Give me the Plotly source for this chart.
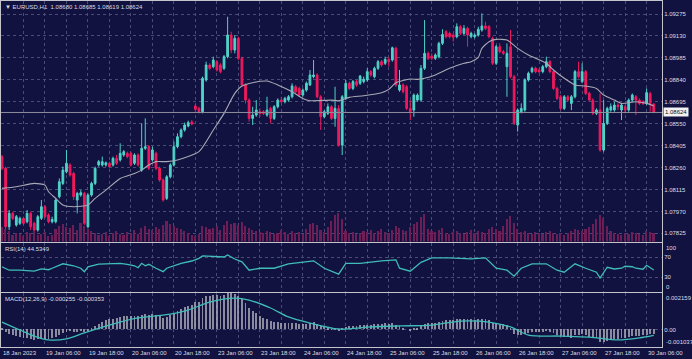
import plotly.graph_objects as go
from plotly.subplots import make_subplots

# ---------------- data ----------------
x_label_idx = [0, 12, 24, 36, 48, 60, 72, 84, 96, 108, 120, 132, 144, 156, 168, 180]
x_label_txt = ["18 Jan 2023", "19 Jan 06:00", "19 Jan 18:00", "20 Jan 06:00", "20 Jan 18:00",
               "23 Jan 06:00", "23 Jan 18:00", "24 Jan 06:00", "24 Jan 18:00", "25 Jan 06:00",
               "25 Jan 18:00", "26 Jan 06:00", "26 Jan 18:00", "27 Jan 06:00", "27 Jan 18:00",
               "30 Jan 06:00"]

price_ticks = [1.07825, 1.07970, 1.08115, 1.08260, 1.08405, 1.08550,
               1.08695, 1.08840, 1.08985, 1.09130, 1.09275]
last_price = 1.08624

open_ = [
1.08332, 1.08255, 1.07869, 1.07957, 1.07880, 1.07891, 1.07924, 1.07902, 1.07957, 1.07891,
1.07847, 1.07924, 1.08001, 1.07946, 1.07902, 1.07902, 1.08067, 1.08155, 1.08232, 1.08277,
1.08221, 1.08045, 1.08078, 1.08089, 1.07869, 1.08078, 1.08155, 1.08277, 1.08277, 1.08277,
1.08288, 1.08277, 1.08321, 1.08310, 1.08343, 1.08354, 1.08354, 1.08288, 1.08343, 1.08243,
1.08387, 1.08398, 1.08310, 1.08354, 1.08255, 1.08177, 1.08056, 1.08199, 1.08277, 1.08398,
1.08464, 1.08508, 1.08534, 1.08561, 1.08667, 1.08651, 1.08629, 1.08839, 1.08938, 1.08927,
1.08960, 1.08938, 1.08916, 1.08993, 1.09136, 1.09037, 1.09114, 1.08982, 1.08806, 1.08706,
1.08585, 1.08607, 1.08629, 1.08629, 1.08607, 1.08651, 1.08585, 1.08662, 1.08706, 1.08695,
1.08706, 1.08728, 1.08794, 1.08783, 1.08739, 1.08772, 1.08806, 1.08861, 1.08872, 1.08728,
1.08596, 1.08618, 1.08662, 1.08585, 1.08651, 1.08409, 1.08717, 1.08817, 1.08783, 1.08828,
1.08817, 1.08828, 1.08839, 1.08894, 1.08861, 1.08916, 1.08960, 1.08949, 1.08975, 1.08971,
1.09048, 1.08772, 1.08806, 1.08794, 1.08651, 1.08640, 1.08706, 1.08706, 1.08916, 1.09015,
1.08997, 1.08982, 1.08993, 1.09081, 1.09158, 1.09147, 1.09136, 1.09125, 1.09191, 1.09147,
1.09180, 1.09125, 1.09125, 1.09136, 1.09169, 1.09196, 1.09191, 1.09114, 1.08949, 1.09059,
1.09026, 1.08927, 1.09059, 1.08861, 1.08541, 1.08629, 1.08640, 1.08839, 1.08894, 1.08916,
1.08905, 1.08894, 1.08927, 1.08960, 1.08894, 1.08783, 1.08728, 1.08651, 1.08728, 1.08684,
1.08728, 1.08894, 1.08828, 1.08894, 1.08750, 1.08706, 1.08618, 1.08640, 1.08376, 1.08552,
1.08640, 1.08640, 1.08673, 1.08640, 1.08662, 1.08640, 1.08706, 1.08728, 1.08706, 1.08695,
1.08684, 1.08750, 1.08680]

high_ = [
1.08343, 1.08266, 1.07979, 1.07968, 1.07946, 1.07935, 1.07935, 1.07979, 1.07968, 1.07902,
1.07946, 1.08045, 1.08012, 1.07957, 1.07935, 1.08056, 1.08188, 1.08266, 1.08376, 1.08288,
1.08232, 1.08100, 1.08111, 1.08100, 1.08089, 1.08166, 1.08266, 1.08310, 1.08332, 1.08299,
1.08299, 1.08332, 1.08343, 1.08420, 1.08376, 1.08365, 1.08365, 1.08354, 1.08354, 1.08552,
1.08585, 1.08409, 1.08398, 1.08365, 1.08266, 1.08188, 1.08210, 1.08288, 1.08431, 1.08486,
1.08519, 1.08557, 1.08570, 1.08574, 1.08680, 1.08662, 1.08861, 1.08960, 1.08949, 1.08993,
1.08971, 1.08949, 1.09004, 1.09257, 1.09158, 1.09136, 1.09125, 1.08993, 1.08817, 1.08717,
1.08662, 1.08706, 1.08651, 1.08640, 1.08728, 1.08662, 1.08673, 1.08717, 1.08728, 1.08728,
1.08739, 1.08817, 1.08806, 1.08794, 1.08783, 1.08828, 1.08905, 1.08971, 1.08883, 1.08739,
1.08640, 1.08684, 1.08673, 1.08794, 1.08673, 1.08739, 1.08839, 1.08828, 1.08839, 1.08839,
1.08872, 1.08861, 1.08916, 1.08905, 1.08927, 1.08971, 1.08971, 1.08993, 1.08988, 1.09059,
1.09059, 1.08905, 1.08817, 1.08806, 1.08706, 1.08750, 1.08750, 1.08938, 1.09235, 1.09026,
1.09015, 1.09015, 1.09092, 1.09174, 1.09169, 1.09158, 1.09147, 1.09213, 1.09202, 1.09202,
1.09191, 1.09158, 1.09147, 1.09191, 1.09279, 1.09224, 1.09202, 1.09125, 1.09070, 1.09081,
1.09037, 1.09081, 1.09169, 1.08872, 1.08651, 1.08684, 1.08850, 1.08894, 1.08927, 1.08927,
1.08916, 1.08938, 1.08993, 1.08971, 1.08905, 1.08794, 1.08739, 1.08739, 1.08739, 1.08739,
1.08905, 1.08960, 1.08949, 1.08905, 1.08761, 1.08717, 1.08651, 1.08750, 1.08706, 1.08662,
1.08684, 1.08695, 1.08684, 1.08684, 1.08673, 1.08717, 1.08750, 1.08739, 1.08717, 1.08706,
1.08783, 1.08761, 1.08685]

low_ = [
1.08243, 1.07836, 1.07847, 1.07913, 1.07869, 1.07880, 1.07880, 1.07891, 1.07847, 1.07825,
1.07836, 1.07913, 1.07924, 1.07891, 1.07891, 1.07891, 1.08056, 1.08144, 1.08221, 1.08199,
1.08045, 1.07957, 1.08067, 1.07880, 1.07858, 1.08067, 1.08144, 1.08266, 1.08266, 1.08266,
1.08255, 1.08266, 1.08277, 1.08299, 1.08332, 1.08321, 1.08266, 1.08277, 1.08266, 1.08232,
1.08376, 1.08243, 1.08299, 1.08243, 1.08166, 1.08034, 1.08045, 1.08188, 1.08266, 1.08387,
1.08453, 1.08497, 1.08526, 1.08539, 1.08636, 1.08618, 1.08618, 1.08828, 1.08905, 1.08916,
1.08894, 1.08883, 1.08905, 1.08982, 1.09015, 1.09015, 1.08971, 1.08794, 1.08684, 1.08563,
1.08541, 1.08596, 1.08596, 1.08607, 1.08596, 1.08552, 1.08574, 1.08651, 1.08684, 1.08684,
1.08695, 1.08717, 1.08750, 1.08728, 1.08728, 1.08761, 1.08799, 1.08850, 1.08717, 1.08508,
1.08585, 1.08607, 1.08574, 1.08530, 1.08398, 1.08343, 1.08706, 1.08772, 1.08772, 1.08794,
1.08806, 1.08817, 1.08828, 1.08861, 1.08850, 1.08905, 1.08927, 1.08938, 1.08927, 1.08960,
1.08794, 1.08761, 1.08750, 1.08640, 1.08574, 1.08596, 1.08695, 1.08695, 1.08905, 1.08971,
1.08971, 1.08971, 1.08982, 1.09070, 1.09114, 1.09114, 1.09092, 1.09114, 1.09136, 1.09136,
1.09059, 1.09114, 1.09114, 1.09125, 1.09158, 1.09169, 1.09114, 1.08938, 1.08938, 1.09015,
1.09004, 1.08728, 1.08850, 1.08541, 1.08497, 1.08618, 1.08629, 1.08828, 1.08883, 1.08883,
1.08883, 1.08883, 1.08916, 1.08883, 1.08772, 1.08706, 1.08640, 1.08640, 1.08695, 1.08640,
1.08717, 1.08850, 1.08817, 1.08739, 1.08695, 1.08607, 1.08607, 1.08365, 1.08365, 1.08541,
1.08629, 1.08629, 1.08640, 1.08574, 1.08618, 1.08629, 1.08695, 1.08607, 1.08673, 1.08673,
1.08673, 1.08629, 1.08619]

close_ = [
1.08255, 1.07869, 1.07957, 1.07924, 1.07935, 1.07924, 1.07891, 1.07957, 1.07869, 1.07847,
1.07935, 1.08001, 1.07935, 1.07902, 1.07917, 1.08045, 1.08166, 1.08243, 1.08288, 1.08210,
1.08067, 1.08089, 1.08094, 1.07891, 1.08078, 1.08155, 1.08255, 1.08299, 1.08299, 1.08292,
1.08266, 1.08321, 1.08288, 1.08354, 1.08365, 1.08332, 1.08277, 1.08343, 1.08277, 1.08387,
1.08398, 1.08255, 1.08376, 1.08255, 1.08177, 1.08045, 1.08199, 1.08277, 1.08398, 1.08464,
1.08508, 1.08541, 1.08557, 1.08548, 1.08645, 1.08629, 1.08850, 1.08938, 1.08916, 1.08971,
1.08905, 1.08894, 1.08993, 1.09136, 1.09037, 1.09114, 1.08982, 1.08806, 1.08706, 1.08585,
1.08607, 1.08640, 1.08618, 1.08618, 1.08640, 1.08585, 1.08662, 1.08706, 1.08695, 1.08717,
1.08728, 1.08799, 1.08761, 1.08739, 1.08772, 1.08817, 1.08872, 1.08872, 1.08728, 1.08596,
1.08629, 1.08662, 1.08585, 1.08651, 1.08409, 1.08728, 1.08817, 1.08783, 1.08828, 1.08806,
1.08865, 1.08843, 1.08894, 1.08872, 1.08916, 1.08960, 1.08938, 1.08975, 1.08960, 1.09052,
1.08806, 1.08806, 1.08761, 1.08651, 1.08629, 1.08739, 1.08739, 1.08916, 1.09015, 1.08982,
1.08982, 1.09004, 1.09081, 1.09140, 1.09125, 1.09125, 1.09121, 1.09191, 1.09147, 1.09180,
1.09136, 1.09147, 1.09136, 1.09174, 1.09196, 1.09180, 1.09125, 1.08949, 1.09059, 1.09026,
1.09015, 1.09015, 1.08861, 1.08552, 1.08640, 1.08651, 1.08839, 1.08883, 1.08916, 1.08894,
1.08894, 1.08927, 1.08960, 1.08894, 1.08783, 1.08717, 1.08651, 1.08728, 1.08706, 1.08728,
1.08894, 1.08861, 1.08894, 1.08750, 1.08706, 1.08618, 1.08640, 1.08376, 1.08552, 1.08651,
1.08662, 1.08673, 1.08662, 1.08673, 1.08640, 1.08706, 1.08739, 1.08706, 1.08684, 1.08684,
1.08755, 1.08684, 1.08624]

volume = [
3500, 3000, 2500, 1500, 2000, 1750, 1250, 2250, 2000, 2500,
1500, 1750, 2250, 1250, 1500, 3000, 3750, 4250, 3500, 3250,
4000, 2750, 4500, 3750, 3000, 2500, 2000, 1500, 1750, 2250,
1250, 2000, 2500, 1750, 1500, 2250, 2000, 2750, 1750, 3250,
3750, 3000, 2750, 3500, 3000, 4000, 5000, 4250, 3750, 3250,
3000, 2500, 2000, 1500, 1250, 1750, 3750, 3500, 3000, 3250,
3750, 2750, 4000, 5000, 4250, 4500, 4000, 4750, 3750, 3250,
2750, 2500, 2250, 2000, 2500, 2250, 1750, 2000, 2750, 2250,
1750, 2500, 2000, 2250, 1750, 3000, 4250, 4500, 4000, 2750,
2250, 3500, 5000, 6500, 7000, 5500, 2500, 2000, 2250, 1750,
2000, 2500, 2250, 2750, 2000, 2500, 3000, 2250, 2000, 2750,
3750, 3250, 2750, 2500, 3500, 4250, 4750, 6000, 6750, 3000,
2500, 2250, 2750, 3250, 2000, 1750, 2250, 2500, 2000, 1750,
2250, 2750, 2000, 2500, 2250, 2000, 3000, 3500, 3000, 2500,
3750, 5500, 6250, 4500, 3000, 2250, 2500, 2000, 1750, 2250,
2000, 1750, 2250, 2500, 2000, 1750, 2000, 1500, 2000, 2500,
3000, 2750, 2500, 3000, 3500, 4250, 5500, 6500, 5750, 3750,
2500, 2000, 1750, 1500, 2000, 1750, 2250, 2000, 1750, 1500,
2500, 2250, 2000]

ma_idx = [0, 4, 9, 12, 13, 15, 17, 20, 24, 26, 29, 33, 37, 39, 41, 43, 46, 49, 55, 59,
          62, 65, 67, 70, 74, 77, 81, 84, 86, 92, 94, 97, 101, 106, 108, 110, 114, 116, 118, 121,
          125, 129, 131, 133, 134, 136, 138, 141, 144, 147, 152, 154, 157, 160, 163, 166, 168, 171, 173, 177,
          180, 182]
ma_val = [1.08122, 1.08133, 1.08155, 1.08144, 1.08100, 1.08056, 1.08012, 1.08001, 1.08012, 1.08056,
          1.08111, 1.08188, 1.08221, 1.08243, 1.08277, 1.08299, 1.08299, 1.08310, 1.08365, 1.08508,
          1.08618, 1.08750, 1.08799, 1.08821, 1.08832, 1.08806, 1.08761, 1.08717, 1.08702, 1.08706,
          1.08702, 1.08724, 1.08735, 1.08755, 1.08777, 1.08821, 1.08845, 1.08843, 1.08850, 1.08872,
          1.08916, 1.08949, 1.08960, 1.08988, 1.09048, 1.09092, 1.09107, 1.09103, 1.09048, 1.09004,
          1.08949, 1.08905, 1.08850, 1.08806, 1.08799, 1.08783, 1.08739, 1.08706, 1.08684, 1.08695,
          1.08684, 1.08667]

rsi_idx = [0, 2, 5, 9, 11, 13, 14, 17, 20, 22, 23, 24, 27, 31, 33, 35, 37, 38, 39, 40,
           41, 43, 45, 46, 48, 50, 53, 55, 56, 59, 62, 63, 65, 67, 69, 72, 76, 80, 85, 87,
           90, 94, 96, 100, 106, 110, 111, 114, 117, 120, 125, 131, 135, 138, 141, 143, 145, 148, 152, 155,
           157, 160, 163, 166, 167, 168, 169, 171, 173, 174, 176, 177, 179, 180, 181, 182]
rsi_val = [51, 44, 44, 42, 46.5, 45, 48, 57, 53, 48, 41, 51, 56.5, 56.5, 58, 56, 53, 49, 58, 53,
           56, 48, 41, 48, 53, 58, 62.6, 68, 73, 72, 70.7, 74.7, 66.7, 61, 44, 48, 48, 57, 61, 63,
           48, 36, 58, 58, 63, 65, 48, 42, 60, 69, 69, 67, 69, 48, 44, 32, 48, 57, 57, 44,
           40, 57, 48, 40, 28, 40, 50, 46.5, 48, 52, 51, 48, 46, 54, 50, 44.5349]

macd_main = [
0.00010, -0.00015, -0.00025, -0.00032, -0.00040,
-0.00045, -0.00050, -0.00053, -0.00058, -0.00060, -0.00058, -0.00055, -0.00056,
-0.00057, -0.00052, -0.00042, -0.00030, -0.00020,
-0.00012, -0.00010, -0.00014, -0.00012, -0.00010, -0.00015, -0.00008,
0.00005, 0.00020, 0.00035, 0.00045, 0.00055, 0.00060,
0.00065, 0.00068, 0.00072, 0.00078, 0.00080, 0.00078, 0.00080, 0.00078, 0.00085, 0.00092,
0.00088, 0.00090, 0.00085, 0.00078, 0.00070,
0.00075, 0.00085, 0.00098, 0.00110, 0.00122, 0.00132, 0.00140, 0.00145, 0.00160, 0.00165,
0.00185, 0.00198, 0.00200, 0.00205, 0.00203, 0.00200, 0.00205, 0.00213, 0.00216,
0.00212, 0.00200, 0.00180, 0.00155, 0.00130, 0.00110,
0.00095, 0.00080, 0.00068, 0.00060, 0.00050, 0.00045, 0.00042, 0.00040, 0.00038, 0.00036,
0.00038, 0.00036, 0.00033, 0.00032, 0.00034, 0.00040, 0.00042, 0.00035, 0.00020, 0.00012,
0.00008, 0.00002, 0.00003, -0.00010, 0.00005,
0.00015, 0.00018, 0.00020, 0.00020, 0.00024, 0.00025, 0.00028, 0.00028, 0.00030, 0.00034, 0.00034, 0.00036, 0.00035, 0.00040,
0.00025, 0.00018, 0.00010, 0.00000, -0.00005, 0.00005, 0.00010, 0.00025, 0.00035,
0.00036, 0.00036, 0.00038, 0.00045, 0.00052, 0.00055, 0.00056, 0.00057, 0.00062, 0.00062, 0.00063, 0.00060, 0.00060, 0.00058, 0.00060, 0.00062, 0.00060, 0.00055,
0.00040, 0.00038, 0.00032, 0.00030, 0.00025, 0.00005, -0.00025,
-0.00030, -0.00032, -0.00025, -0.00020, -0.00016, -0.00014, -0.00013, -0.00012, -0.00010, -0.00012, -0.00020, -0.00030, -0.00040, -0.00042, -0.00045, -0.00048, -0.00035,
-0.00030, -0.00028, -0.00035, -0.00042, -0.00050, -0.00052, -0.00075, -0.00072, -0.00068, -0.00063,
-0.00058, -0.00055, -0.00052, -0.00050, -0.00045, -0.00040, -0.00038, -0.00036, -0.00035, -0.00030, -0.00028, -0.000255]

sig_idx = [0, 5, 9, 13, 18, 23, 30, 38, 47, 52, 58, 65, 69, 75, 80, 86, 94, 103, 111, 120,
           128, 136, 142, 147, 156, 164, 172, 178, 182]
sig_val = [0.00044, -0.00003, -0.00039, -0.00062, -0.00056, -0.00020, 0.00026, 0.00068, 0.00091, 0.00115,
           0.00162, 0.00186, 0.00174, 0.00127, 0.00074, 0.00038, 0.00003, 0.00015, 0.00021, 0.00026,
           0.00050, 0.00044, 0.00015, -0.00033, -0.00039, -0.00045, -0.00062, -0.00050, -0.000353]

# ---------------- styling ----------------
BG = "#11123f"
GRID = "#4a4c78"
AXIS = "#c4c4cc"
TXT = "#dcdce6"
BULL = "#4fd3c8"
BEAR = "#f0195e"
VOLC = "#6c1f57"
HISTC = "#b4b4c0"
LINEC = "#3fbdb8"
MAC = "#a9a9b6"
FONT = "Liberation Sans"
FS = 6

N = len(close_)
idx = list(range(N))

fig = make_subplots(rows=3, cols=1, shared_xaxes=True, vertical_spacing=0.0,
                    specs=[[{"secondary_y": True}], [{}], [{}]])

fig.add_trace(go.Candlestick(
    x=idx, open=open_, high=high_, low=low_, close=close_,
    increasing=dict(line=dict(color=BULL, width=1), fillcolor=BULL),
    decreasing=dict(line=dict(color=BEAR, width=1), fillcolor=BEAR),
    whiskerwidth=0, hoverinfo="skip", showlegend=False), row=1, col=1, secondary_y=False)

fig.add_trace(go.Scatter(x=ma_idx, y=ma_val, mode="lines",
                         line=dict(color=MAC, width=1.1, shape="spline", smoothing=0.6),
                         hoverinfo="skip", showlegend=False), row=1, col=1, secondary_y=False)

fig.add_trace(go.Bar(x=idx, y=volume, width=0.45, marker=dict(color=VOLC, line=dict(width=0)),
                     hoverinfo="skip", showlegend=False), row=1, col=1, secondary_y=True)

fig.add_trace(go.Scatter(x=rsi_idx, y=rsi_val, mode="lines", line=dict(color=LINEC, width=1.3),
                         hoverinfo="skip", showlegend=False), row=2, col=1)

fig.add_trace(go.Bar(x=idx, y=macd_main, width=0.25, marker=dict(color=HISTC, line=dict(width=0)),
                     opacity=0.75, hoverinfo="skip", showlegend=False), row=3, col=1)
fig.add_trace(go.Scatter(x=sig_idx, y=sig_val, mode="lines",
                         line=dict(color=LINEC, width=1.3, shape="spline", smoothing=0.8),
                         hoverinfo="skip", showlegend=False), row=3, col=1)

grid_ticks = list(range(0, N + 1, 6))
xcommon = dict(domain=[0, 1], range=[-0.28, 184.3], tickvals=grid_ticks, showticklabels=False, ticks="",
               showgrid=True, gridcolor=GRID, griddash="dot", gridwidth=1,
               showline=True, linecolor=AXIS, linewidth=1, mirror=True, zeroline=False)
ycommon = dict(side="right", showgrid=True, gridcolor=GRID, griddash="dot", gridwidth=1,
               showline=True, linecolor=AXIS, linewidth=1, mirror=True, zeroline=False, ticks="",
               tickfont=dict(size=FS, color=TXT, family=FONT))

D_MAIN = [0.3049, 1.0]
D_RSI = [0.1590, 0.3020]
D_MACD = [0.0, 0.1561]

fig.update_layout(
    width=692, height=359,
    margin=dict(l=1, r=30, t=1, b=12, autoexpand=False),
    paper_bgcolor=BG, plot_bgcolor=BG,
    bargap=0, showlegend=False,
    font=dict(family=FONT, size=FS, color=TXT),
    xaxis=dict(**xcommon, rangeslider=dict(visible=False)),
    xaxis2=dict(**xcommon),
    xaxis3=dict(**xcommon),
    yaxis=dict(**ycommon, domain=D_MAIN, range=[1.07771, 1.09361], tickvals=price_ticks,
               ticktext=[f"{v:.5f}" for v in price_ticks]),
    yaxis2=dict(domain=D_MAIN, range=[0, 59750], visible=False, overlaying="y", showgrid=False),
    yaxis3=dict(**ycommon, domain=D_RSI, range=[0, 100], tickvals=[30, 70], ticktext=["30", "70"]),
    yaxis4=dict(**ycommon, domain=D_MACD, range=[-0.001037, 0.002159], tickvals=[0], ticktext=["0.00"]),
)

# current price line + box
fig.add_shape(type="line", xref="paper", x0=0, x1=1, yref="y", y0=last_price, y1=last_price,
              line=dict(color="#8e8e9c", width=1))
annots = [
    dict(xref="paper", x=1, xanchor="left", xshift=1, yref="y", y=last_price, yanchor="middle",
         text=f"{last_price:.5f}", showarrow=False, bgcolor="#f2f2f2",
         font=dict(size=FS, color="#111111", family=FONT), borderpad=1),
    dict(xref="paper", x=0, xanchor="left", xshift=2, yref="paper", y=1, yanchor="top", yshift=-1,
         text="▼ EURUSD,H1  1.08680 1.08685 1.08619 1.08624", showarrow=False,
         font=dict(size=FS, color=TXT, family=FONT)),
    dict(xref="paper", x=0, xanchor="left", xshift=2, yref="y3 domain", y=1, yanchor="top", yshift=-1,
         text="RSI(14) 44.5349", showarrow=False, font=dict(size=FS, color=TXT, family=FONT)),
    dict(xref="paper", x=0, xanchor="left", xshift=2, yref="y4 domain", y=1, yanchor="top", yshift=-1,
         text="MACD(12,26,9) -0.000255 -0.000353", showarrow=False,
         font=dict(size=FS, color=TXT, family=FONT)),
    dict(xref="paper", x=1, xanchor="left", xshift=2, yref="y3", y=100, yanchor="top",
         text="100", showarrow=False, font=dict(size=FS, color=TXT, family=FONT)),
    dict(xref="paper", x=1, xanchor="left", xshift=2, yref="y3", y=0, yanchor="bottom",
         text="0", showarrow=False, font=dict(size=FS, color=TXT, family=FONT)),
    dict(xref="paper", x=1, xanchor="left", xshift=2, yref="y4", y=0.002159, yanchor="top",
         text="0.002159", showarrow=False, font=dict(size=FS, color=TXT, family=FONT)),
    dict(xref="paper", x=1, xanchor="left", xshift=2, yref="y4", y=-0.001037, yanchor="bottom",
         text="-0.001037", showarrow=False, font=dict(size=FS, color=TXT, family=FONT)),
]
for i, t in zip(x_label_idx, x_label_txt):
    annots.append(dict(xref="x3", x=i, xanchor="left", xshift=-1, yref="paper", y=0, yanchor="top",
                       yshift=-1, text=t, showarrow=False, font=dict(size=FS, color=TXT, family=FONT)))
fig.update_layout(annotations=annots)

fig.write_html("out.html", config={"displayModeBar": False},
               post_script="document.body.style.margin='0';document.body.style.background='" + BG + "';")
